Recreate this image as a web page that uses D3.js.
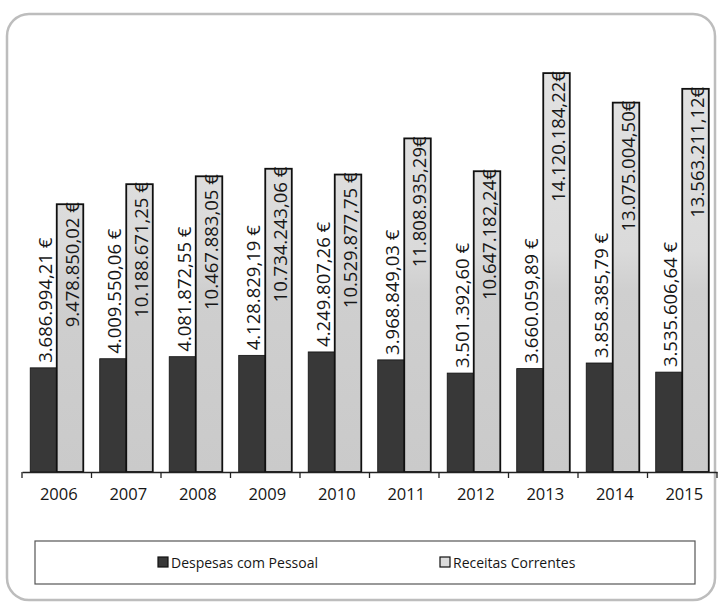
<!DOCTYPE html>
<html>
<head>
<meta charset="utf-8">
<script src="https://cdn.jsdelivr.net/npm/d3@7"></script>
<style>
  html, body { margin: 0; padding: 0; background: #ffffff; }
  svg { display: block; }
  text { font-family: "Open Sans", "Noto Sans", sans-serif; fill: #161616; }
</style>
</head>
<body>
<svg id="chart" width="721" height="610"></svg>
<script>
// Anos
const years = ["2006", "2007", "2008", "2009", "2010", "2011", "2012", "2013", "2014", "2015"];

// Despesas com Pessoal (€)
const despesasPessoal = [
  3686994.21, 4009550.06, 4081872.55, 4128829.19, 4249807.26,
  3968849.03, 3501392.60, 3660059.89, 3858385.79, 3535606.64
];

// Receitas Correntes (€)
const receitasCorrentes = [
  9478850.02, 10188671.25, 10467883.05, 10734243.06, 10529877.75,
  11808935.29, 10647182.24, 14120184.22, 13075004.50, 13563211.12
];

const seriesNames = ["Despesas com Pessoal", "Receitas Correntes"];

// Formato português: 3.686.994,21 €
const ptLocale = d3.formatLocale({ decimal: ",", thousands: ".", grouping: [3], currency: ["", " €"] });
const fmt = ptLocale.format(",.2f");
// as receitas a partir de 2011 foram escritas sem espaço antes do símbolo
const euroLabel = (v, spaced) => fmt(v) + (spaced ? " €" : "€");
const spacedLabel = (key, year) => key === seriesNames[0] || +year <= 2010;

const svg = d3.select("#chart");

// moldura arredondada do gráfico
svg.append("rect")
  .attr("x", 7).attr("y", 14)
  .attr("width", 708).attr("height", 586)
  .attr("rx", 22).attr("ry", 22)
  .attr("fill", "#ffffff")
  .attr("stroke", "#bdbdbd")
  .attr("stroke-width", 2.5);

const plot = { left: 22, right: 717, top: 20, bottom: 472 };

const x0 = d3.scaleBand()
  .domain(years)
  .range([plot.left, plot.right])
  .paddingInner(0)
  .paddingOuter(0);

const x1 = d3.scaleBand()
  .domain(seriesNames)
  .range([0, x0.bandwidth()])
  .paddingInner(0)
  .paddingOuter(0.31);

const y = d3.scaleLinear()
  .domain([0, 16000000])
  .range([plot.bottom, plot.top]);

// gradiente suave das barras claras
const defs = svg.append("defs");
const grad = defs.append("linearGradient")
  .attr("id", "lightFill")
  .attr("gradientUnits", "userSpaceOnUse")
  .attr("x1", 0).attr("y1", plot.top + 50)
  .attr("x2", 0).attr("y2", plot.bottom);
grad.append("stop").attr("offset", "0%").attr("stop-color", "#e2e2e2");
grad.append("stop").attr("offset", "45%").attr("stop-color", "#dadada");
grad.append("stop").attr("offset", "55%").attr("stop-color", "#cfcfcf");
grad.append("stop").attr("offset", "100%").attr("stop-color", "#cacaca");

const rows = years.map((yr, i) => ({
  year: yr,
  values: [
    { key: seriesNames[0], value: despesasPessoal[i], year: yr },
    { key: seriesNames[1], value: receitasCorrentes[i], year: yr }
  ]
}));

const groups = svg.append("g").selectAll("g")
  .data(rows)
  .join("g")
  .attr("transform", d => `translate(${x0(d.year)},0)`);

groups.selectAll("rect")
  .data(d => d.values)
  .join("rect")
  .attr("x", d => x1(d.key))
  .attr("y", d => y(d.value))
  .attr("width", x1.bandwidth())
  .attr("height", d => plot.bottom - y(d.value))
  .attr("fill", d => d.key === seriesNames[0] ? "#383838" : "url(#lightFill)")
  .attr("stroke", "#101010")
  .attr("stroke-width", d => d.key === seriesNames[0] ? 0.8 : 1.8);

// rótulos de valor, rodados 90°
groups.selectAll("text.val")
  .data(d => d.values)
  .join("text")
  .attr("class", "val")
  .attr("transform", d => {
    const cx = x1(d.key) + x1.bandwidth() / 2 + 1;
    const cy = d.key === seriesNames[0] ? y(d.value) - 5 : y(d.value) - 2;
    return `translate(${cx},${cy}) rotate(-90)`;
  })
  .attr("text-anchor", d => d.key === seriesNames[0] ? "start" : "end")
  .attr("dominant-baseline", "central")
  .style("font-size", "18.5px")
  .text(d => euroLabel(d.value, spacedLabel(d.key, d.year)));

// eixo horizontal
const axis = d3.axisBottom(x0).tickSize(0).tickPadding(16);
const gx = svg.append("g")
  .attr("transform", `translate(0,${plot.bottom})`)
  .call(axis);
gx.select(".domain").attr("stroke", "#222").attr("stroke-width", 1.3);
gx.selectAll(".tick text")
  .style("font-size", "16.5px")
  .style("font-family", "\"Open Sans\", sans-serif")
  .attr("fill", "#161616")
  .attr("dx", 2);

// marcas entre categorias
svg.append("g").selectAll("line")
  .data(years.concat(["end"]))
  .join("line")
  .attr("x1", (d, i) => plot.left + i * x0.step())
  .attr("x2", (d, i) => plot.left + i * x0.step())
  .attr("y1", plot.bottom)
  .attr("y2", plot.bottom + 6)
  .attr("stroke", "#222")
  .attr("stroke-width", 1.3);

// legenda
const legend = svg.append("g");
legend.append("rect")
  .attr("x", 35).attr("y", 541)
  .attr("width", 660).attr("height", 43)
  .attr("fill", "none")
  .attr("stroke", "#555")
  .attr("stroke-width", 1.2);

const legendItems = [
  { name: seriesNames[0], x: 158, fill: "#383838" },
  { name: seriesNames[1], x: 440, fill: "#dcdcdc" }
];
const li = legend.selectAll("g.item")
  .data(legendItems)
  .join("g")
  .attr("class", "item")
  .attr("transform", d => `translate(${d.x},557)`);
li.append("rect")
  .attr("width", 10).attr("height", 10)
  .attr("fill", d => d.fill)
  .attr("stroke", "#111")
  .attr("stroke-width", 1.2);
li.append("text")
  .attr("x", 13).attr("y", 5)
  .attr("dominant-baseline", "central")
  .style("font-size", "14px")
  .text(d => d.name);
</script>
</body>
</html>
